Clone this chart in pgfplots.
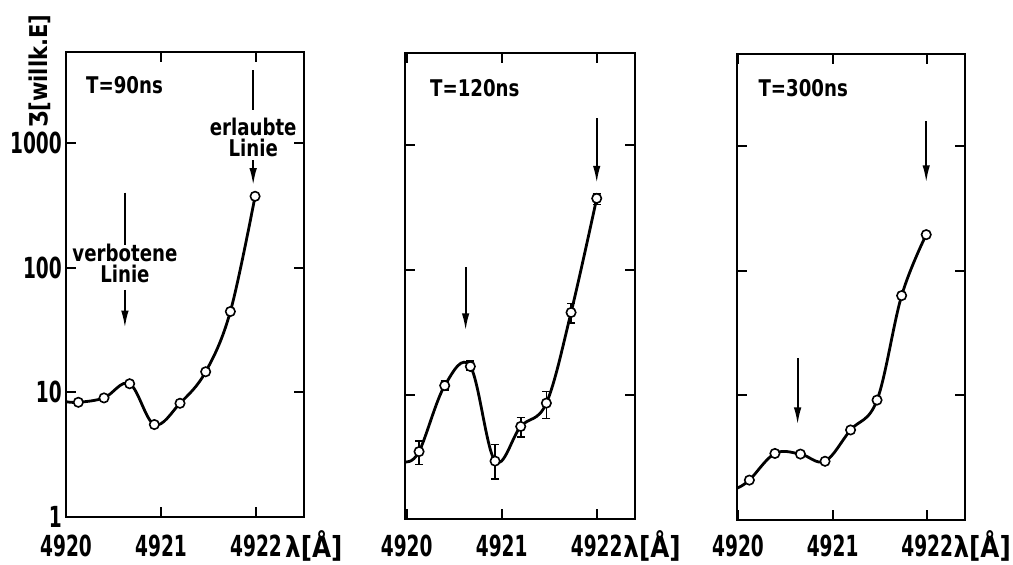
\documentclass[border=0pt]{standalone}
\usepackage{fontspec}
\setmainfont{DejaVu Sans}
\newfontfamily\txtfont{DejaVu Sans Bold}[FakeStretch=0.79]
\newfontfamily\ylfont{DejaVu Sans Bold}[FakeStretch=0.86]
\newfontfamily\tickfont{DejaVu Sans Bold}[FakeStretch=0.64]
\newfontfamily\lamfont{DejaVu Sans Bold}[FakeStretch=0.85]
\usepackage{pgfplots}
\usepackage{pgfplotstable}
\pgfplotsset{compat=1.18}
\usetikzlibrary{arrows.meta}

% curve through the points (first row: where the curve meets the left frame)
\pgfplotstableread{
x y
4920.00 8.4
4920.13 8.3
4920.40 9.0
4920.67 11.7
4920.93 5.5
4921.20 8.15
4921.47 14.6
4921.73 44.5
4921.99 375
}\curveA
\pgfplotstableread{
x y
4920.13 8.3
4920.40 9.0
4920.67 11.7
4920.93 5.5
4921.20 8.15
4921.47 14.6
4921.73 44.5
4921.99 375
}\ptsA

\pgfplotstableread{
x y
4919.98 2.89
4920.13 3.49
4920.40 11.8
4920.67 16.8
4920.93 2.93
4921.20 5.55
4921.47 8.54
4921.73 45.5
4922.00 374
}\curveB
\pgfplotstableread{
x y ep em
4920.13 3.49 0.76 0.75
4920.40 11.8 1.1 0.9
4920.67 16.8 1.8 1.1
4920.93 2.93 1.05 0.83
4921.20 5.55 1.0 1.0
4921.47 8.54 2.06 2.12
4921.73 45.5 8.3 8.2
4922.00 374 34 40
}\ptsB

\pgfplotstableread{
x y
4919.99 1.80
4920.12 2.09
4920.39 3.42
4920.66 3.38
4920.92 2.96
4921.19 5.28
4921.47 9.17
4921.73 63.2
4921.99 195
}\curveC
\pgfplotstableread{
x y
4920.12 2.09
4920.39 3.42
4920.66 3.38
4920.92 2.96
4921.19 5.28
4921.47 9.17
4921.73 63.2
4921.99 195
}\ptsC

\tikzset{
  mytxt/.style={font=\txtfont\fontsize{23}{23}\selectfont, inner sep=0pt},
  myarr/.style={line width=1.9pt, -{Latex[length=17pt,width=7.5pt]}},
  myseg/.style={line width=1.9pt},
}

\begin{document}
\begin{tikzpicture}
\useasboundingbox (0,0) rectangle (1013pt,565pt);

% ---------- panel 1 ----------
\begin{axis}[
  scale only axis,
  ymode=log, ymin=1, ymax=5440,
  axis line style={line width=2pt},
  tick align=inside, major tick length=10pt,
  tick style={line width=2pt, black},
  xminorticks=false, yminorticks=false,
  xtick={4920,4921,4922}, xticklabels={4920,4921,4922},
  ytick={1,10,100,1000}, yticklabels={1,10,100,1000},
  xticklabel style={font=\tickfont\fontsize{29}{29}\selectfont, anchor=base, inner sep=0pt, yshift=-40.3pt},
  yticklabel style={font=\tickfont\fontsize{29}{29}\selectfont, anchor=east, inner sep=0pt, xshift=-4pt},
  xlabel={λ[Å]},
  xlabel style={font=\lamfont\fontsize{29}{29}\selectfont, anchor=base west, inner sep=0pt, at={(axis description cs:0.92,-0.0867)}},
  ylabel={Ʒ[willk.E]},
  ylabel style={font=\ylfont\fontsize{24.5}{24.5}\selectfont, at={(axis description cs:-0.108,0.958)}, anchor=center, inner sep=0pt},
  at={(66pt,48.3pt)}, anchor=south west,
  width=238pt, height=465pt, xmin=4920, xmax=4922.505,
]
\addplot[black, line width=2.8pt, smooth, tension=0.6] table {\curveA};
\addplot[only marks, mark=*, mark size=4.7pt, mark options={fill=white, draw=black, line width=1.6pt}] table {\ptsA};
\node[mytxt, anchor=base west] at (axis cs:4920.21,2518) {T=90ns};
\draw[myseg] (axis cs:4920.62,401) -- (axis cs:4920.62,153);
\node[mytxt, anchor=base] at (axis cs:4920.62,113) {verbotene};
\node[mytxt, anchor=base] at (axis cs:4920.62,75.9) {Linie};
\draw[myarr] (axis cs:4920.62,66.5) -- (axis cs:4920.62,33);
\draw[myseg] (axis cs:4921.97,3873) -- (axis cs:4921.97,1849);
\node[mytxt, anchor=base] at (axis cs:4921.97,1164) {erlaubte};
\node[mytxt, anchor=base] at (axis cs:4921.97,779) {Linie};
\draw[myarr] (axis cs:4921.97,733) -- (axis cs:4921.97,461);
\end{axis}

% ---------- panel 2 ----------
\begin{axis}[
  scale only axis,
  ymode=log, ymin=1, ymax=5440,
  axis line style={line width=2pt},
  tick align=inside, major tick length=10pt,
  tick style={line width=2pt, black},
  xminorticks=false, yminorticks=false,
  xtick={4920,4921,4922}, xticklabels={4920,4921,4922},
  ytick={1,10,100,1000}, yticklabels={},
  xticklabel style={font=\tickfont\fontsize{29}{29}\selectfont, anchor=base, inner sep=0pt, yshift=-37.7pt},
  xlabel={λ[Å]},
  xlabel style={font=\lamfont\fontsize{29}{29}\selectfont, anchor=base west, inner sep=0pt, at={(axis description cs:0.949,-0.081)}},
  at={(405pt,45.7pt)}, anchor=south west,
  width=230pt, height=466pt, xmin=4919.982, xmax=4922.403,
]
\addplot[black, line width=2.8pt, smooth, tension=0.6] table {\curveB};
\addplot[only marks, mark=*, mark size=4.7pt, mark options={fill=white, draw=black, line width=1.6pt},
  error bars/.cd, y dir=both, y explicit,
  error bar style={line width=1.6pt, black},
  error mark options={rotate=90, mark size=4pt, line width=1.6pt, black}]
  table[x=x, y=y, y error plus=ep, y error minus=em] {\ptsB};
\node[mytxt, anchor=base west] at (axis cs:4920.245,2470) {T=120ns};
\draw[myarr] (axis cs:4920.62,104.5) -- (axis cs:4920.62,32.7);
\draw[myarr] (axis cs:4922.0,1645) -- (axis cs:4922.0,498);
\end{axis}

% ---------- panel 3 ----------
\begin{axis}[
  scale only axis,
  ymode=log, ymin=1, ymax=5440,
  axis line style={line width=2pt},
  tick align=inside, major tick length=10pt,
  tick style={line width=2pt, black},
  xminorticks=false, yminorticks=false,
  xtick={4920,4921,4922}, xticklabels={4920,4921,4922},
  ytick={1,10,100,1000}, yticklabels={},
  xticklabel style={font=\tickfont\fontsize{29}{29}\selectfont, anchor=base, inner sep=0pt, yshift=-37pt},
  xlabel={λ[Å]},
  xlabel style={font=\lamfont\fontsize{29}{29}\selectfont, anchor=base west, inner sep=0pt, at={(axis description cs:0.949,-0.0795)}},
  at={(736.7pt,45pt)}, anchor=south west,
  width=228.3pt, height=465.5pt, xmin=4919.986, xmax=4922.40,
]
\addplot[black, line width=2.8pt, smooth, tension=0.6] table {\curveC};
\addplot[only marks, mark=*, mark size=4.7pt, mark options={fill=white, draw=black, line width=1.6pt}] table {\ptsC};
\node[mytxt, anchor=base west] at (axis cs:4920.215,2483) {T=300ns};
\draw[myarr] (axis cs:4920.63,19.95) -- (axis cs:4920.63,5.84);
\draw[myarr] (axis cs:4921.99,1589) -- (axis cs:4921.99,513);
\end{axis}
\end{tikzpicture}
\end{document}
